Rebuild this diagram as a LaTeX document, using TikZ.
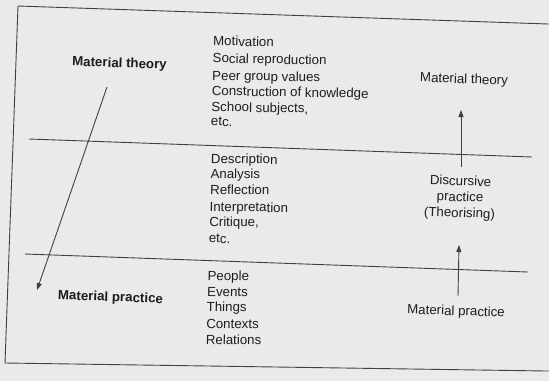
\documentclass[tikz,border=0pt]{standalone}
\usepackage{fontspec}
\setmainfont{Liberation Sans}
\usetikzlibrary{arrows.meta}
\definecolor{paper}{HTML}{EAEAE8}
\definecolor{ink}{HTML}{1E1E1E}
\definecolor{rulec}{HTML}{404040}
\begin{document}
\begin{tikzpicture}[x=1pt,y=-1pt,
  lbl/.style={font=\fontsize{13.3}{16}\selectfont, text=ink, inner sep=0pt, rotate=-2},
  boldlbl/.style={lbl, font=\fontsize{13.3}{16}\selectfont\bfseries},
  item/.style={lbl, rotate=1, anchor=west, text height=8pt, text depth=2pt},
  framec/.style={draw=rulec, line width=0.9pt, line join=miter},
  arr/.style={draw=rulec, line width=0.9pt, -{Triangle[length=7pt,width=5pt]}}]
\fill[paper] (0,0) rectangle (549,381);
\useasboundingbox (0,0) rectangle (549,381);
\clip (0,0) rectangle (549,381);
% frame
\draw[framec] (560,24.4) -- (18,6) -- (5,363) -- (560,371.2);
% dividers
\coordinate (d1a) at (29,139); \coordinate (d1b) at (532,157);
\coordinate (d2a) at (25,254); \coordinate (d2b) at (528,272);
\draw[framec] (d1a) -- (d1b);
\draw[framec] (d2a) -- (d2b);
% left labels
\node[boldlbl] (mt) at (119.5,64) {Material theory};
\node[boldlbl] (mp) at (110.5,298) {Material practice};
% right labels
\node[lbl] (rt) at (464,80) {Material theory};
\node[lbl, align=center] (dp) at (460,198) {Discursive\\practice\\(Theorising)};
\node[lbl] (rp) at (456,312) {Material practice};
% list 1
\node[item] (l1) at (213.0,42.6) {Motivation};
\node[item] (l2) at (212.5,59.8) {Social reproduction};
\node[item] (l3) at (212.1,77.0) {Peer group values};
\node[item] (l4) at (211.7,92.4) {Construction of knowledge};
\node[item] (l5) at (211.2,108.4) {School subjects,};
\node[item] (l6) at (210.8,122.8) {etc.};
% list 2
\node[item] (m1) at (210.8,160.0) {Description};
\node[item] (m2) at (210.4,175.0) {Analysis};
\node[item] (m3) at (210.0,191.0) {Reflection};
\node[item] (m4) at (209.5,208.0) {Interpretation};
\node[item] (m5) at (209.1,223.0) {Critique,};
\node[item] (m6) at (208.7,239.8) {etc.};
% list 3
\node[item] (n1) at (207.4,277.0) {People};
\node[item] (n2) at (207.0,293.0) {Events};
\node[item] (n3) at (206.5,308.0) {Things};
\node[item] (n4) at (206.1,325.0) {Contexts};
\node[item] (n5) at (205.7,341.0) {Relations};
% arrows
\coordinate (a1s) at (107,87);
\coordinate (a1e) at (37,290);
\draw[arr] (a1s) -- (a1e);
\coordinate (a2s) at (461,167);
\coordinate (a2e) at (461,110);
\draw[arr] (a2s) -- (a2e);
\coordinate (a3s) at (458,296);
\coordinate (a3e) at (459,245);
\draw[arr] (a3s) -- (a3e);
\end{tikzpicture}
\end{document}
